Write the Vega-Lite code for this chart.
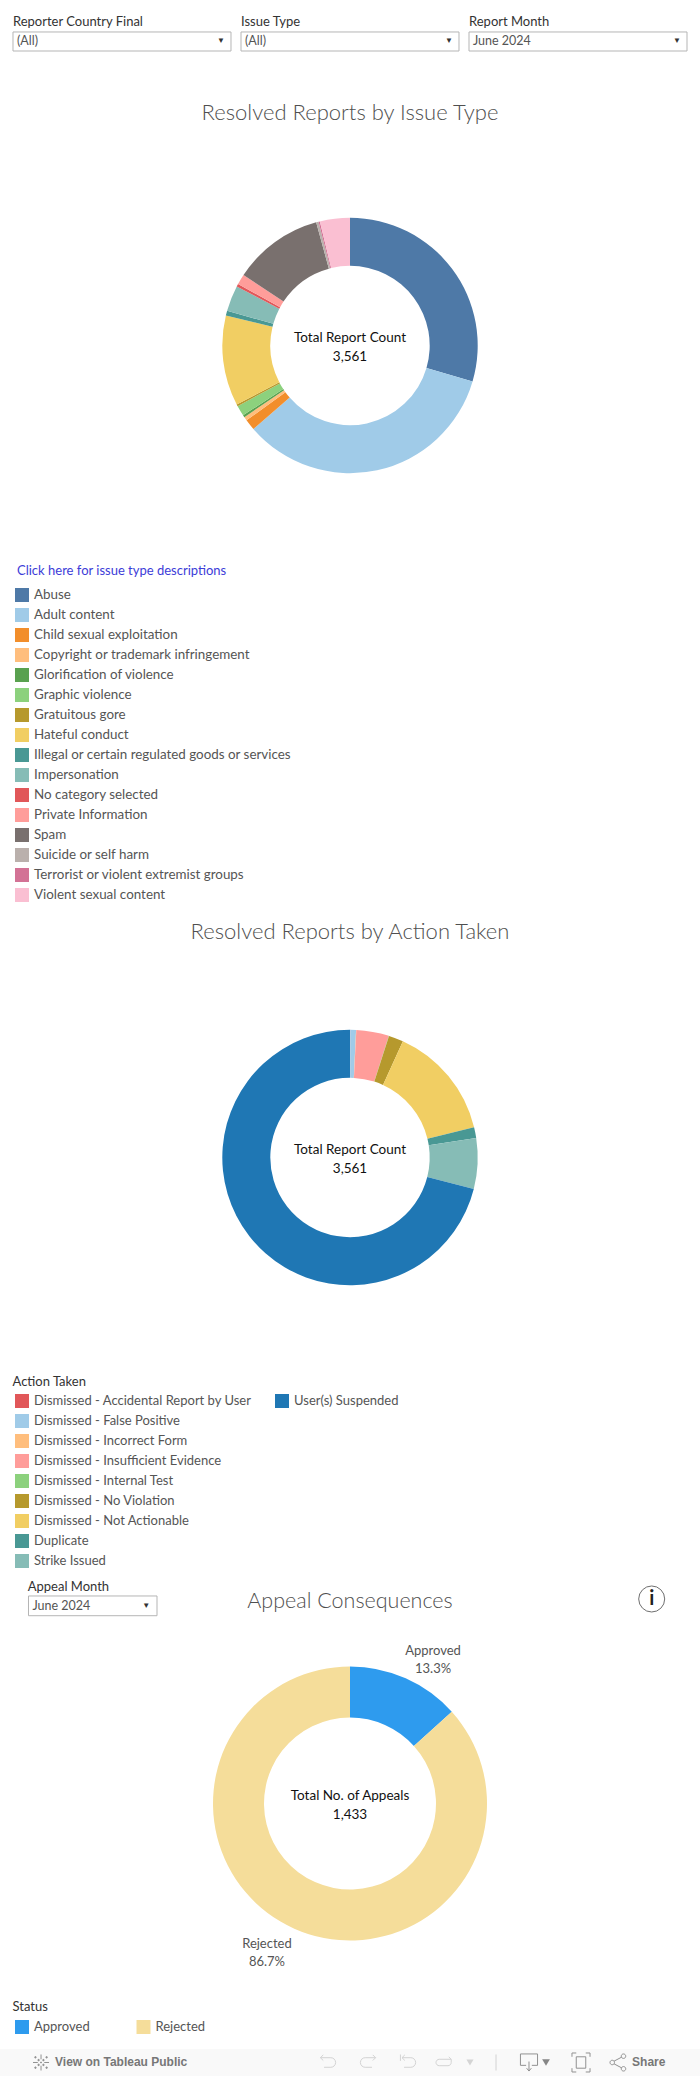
{"$schema":"https://vega.github.io/schema/vega-lite/v6.json","padding":0,"spacing":0,"background":"white",
"config":{"view":{"stroke":null},"axis":{"disable":true},"font":"Lato","concat":{"spacing":0},"text":{"font":"Lato"}},
"resolve":{"scale":{"color":"independent"},"legend":{"color":"independent"}},
"vconcat":[
{"width":700,"height":60,"data":{"values":[{"filter":"Reporter Country Final","value":"(All)"},{"filter":"Issue Type","value":"(All)"},{"filter":"Report Month","value":"June 2024"}]},
"encoding":{"x":{"field":"filter","type":"nominal","sort":null,"scale":{"type":"band","paddingInner":0.0439,"paddingOuter":0.057},"bandPosition":0}},
"layer":[
{"mark":{"type":"rect","fill":"white","stroke":"#b5b5b5","strokeWidth":1},"encoding":{"x":{"field":"filter","type":"nominal","sort":null,"scale":{"type":"band","paddingInner":0.0439,"paddingOuter":0.057}},"y":{"datum":0.533,"scale":{"domain":[0,1],"reverse":true}},"y2":{"datum":0.85}}},
{"mark":{"type":"text","align":"left","baseline":"middle","fontSize":13,"color":"#333333"},"encoding":{"y":{"datum":0.367,"scale":{"domain":[0,1],"reverse":true}},"text":{"field":"filter"}}},
{"mark":{"type":"text","align":"left","baseline":"middle","dx":4,"fontSize":12.5,"color":"#555555"},"encoding":{"y":{"datum":0.69,"scale":{"domain":[0,1],"reverse":true}},"text":{"field":"value"}}},
{"mark":{"type":"text","align":"center","baseline":"middle","dx":-10,"fontSize":8,"color":"#333333","text":"▼"},"encoding":{"x":{"field":"filter","type":"nominal","sort":null,"scale":{"type":"band","paddingInner":0.0439,"paddingOuter":0.057},"bandPosition":1},"y":{"datum":0.69,"scale":{"domain":[0,1],"reverse":true}}}}
]},
{"width":700,"height":571,"title":{"text":"Resolved Reports by Issue Type","anchor":"middle","frame":"group","offset":-65,"fontSize":22,"fontWeight":300,"color":"#4f4f4f","font":"Lato"},
"layer":[
{"data":{"values":[
{"issue":"Abuse","count":1052},{"issue":"Adult content","count":1215},{"issue":"Child sexual exploitation","count":49},{"issue":"Copyright or trademark infringement","count":17},{"issue":"Glorification of violence","count":10},{"issue":"Graphic violence","count":47},{"issue":"Gratuitous gore","count":9},{"issue":"Hateful conduct","count":406},{"issue":"Illegal or certain regulated goods or services","count":22},{"issue":"Impersonation","count":116},{"issue":"No category selected","count":12},{"issue":"Private Information","count":47},{"issue":"Spam","count":407},{"issue":"Suicide or self harm","count":11},{"issue":"Terrorist or violent extremist groups","count":6},{"issue":"Violent sexual content","count":135}]},
"transform":[{"stack":"count","groupby":[],"sort":[{"field":"issue","order":"ascending"}],"as":["s0","s1"]}],
"mark":{"type":"arc","radius":127.7,"radius2":79.7},
"encoding":{"theta":{"field":"s0","type":"quantitative","scale":{"domain":[0,3561]}},"theta2":{"field":"s1"},
"color":{"field":"issue","type":"nominal","scale":{"domain":["Abuse","Adult content","Child sexual exploitation","Copyright or trademark infringement","Glorification of violence","Graphic violence","Gratuitous gore","Hateful conduct","Illegal or certain regulated goods or services","Impersonation","No category selected","Private Information","Spam","Suicide or self harm","Terrorist or violent extremist groups","Violent sexual content"],"range":["#4e79a7","#a0cbe8","#f28e2b","#ffbe7d","#59a14f","#8cd17d","#b6992d","#f1ce63","#499894","#86bcb6","#e15759","#ff9d9a","#79706e","#bab0ac","#d37295","#fabfd2"]},
"legend":{"orient":"none","legendX":17,"legendY":505,"title":"Click here for issue type descriptions","titleColor":"#3c3cd8","titleFont":"Lato","titleFontSize":13,"titleFontWeight":"normal","titlePadding":10,"titleLimit":400,"symbolType":"square","symbolSize":196,"symbolStrokeWidth":0,"symbolOpacity":1,"symbolOffset":-2,"labelFont":"Lato","labelFontSize":13.4,"labelColor":"#555555","labelLimit":400,"labelOffset":5,"rowPadding":6,"padding":0}}}},
{"data":{"values":[{"label":"Total Report Count","total":3561}]},"mark":{"type":"text","dy":-8,"fontSize":13.5,"color":"#111111"},"encoding":{"text":{"field":"label"}}},
{"data":{"values":[{"label":"Total Report Count","total":3561}]},"mark":{"type":"text","dy":11,"fontSize":13.5,"color":"#111111"},"encoding":{"text":{"field":"total","type":"quantitative","format":","}}}
]},
{"width":700,"height":511,"title":{"text":"Resolved Reports by Action Taken","anchor":"middle","frame":"group","offset":-42,"fontSize":22,"fontWeight":300,"color":"#4f4f4f","font":"Lato"},
"resolve":{"scale":{"color":"independent"}},
"layer":[
{"data":{"name":"actions","values":[
{"action":"Dismissed - Accidental Report by User","count":1},{"action":"Dismissed - False Positive","count":26},{"action":"Dismissed - Incorrect Form","count":1},{"action":"Dismissed - Insufficient Evidence","count":147},{"action":"Dismissed - Internal Test","count":1},{"action":"Dismissed - No Violation","count":66},{"action":"Dismissed - Not Actionable","count":513},{"action":"Duplicate","count":48},{"action":"Strike Issued","count":228},{"action":"User(s) Suspended","count":2530}]},
"transform":[{"stack":"count","groupby":[],"sort":[{"field":"action","order":"ascending"}],"as":["s0","s1"]},{"filter":"datum.action !== 'User(s) Suspended'"}],
"mark":{"type":"arc","radius":127.7,"radius2":79.7},
"encoding":{"theta":{"field":"s0","type":"quantitative","scale":{"domain":[0,3561]}},"theta2":{"field":"s1"},
"color":{"field":"action","type":"nominal","scale":{"domain":["Dismissed - Accidental Report by User","Dismissed - False Positive","Dismissed - Incorrect Form","Dismissed - Insufficient Evidence","Dismissed - Internal Test","Dismissed - No Violation","Dismissed - Not Actionable","Duplicate","Strike Issued"],"range":["#e15759","#a0cbe8","#ffbe7d","#ff9d9a","#8cd17d","#b6992d","#f1ce63","#499894","#86bcb6"]},
"legend":{"orient":"none","legendX":12.5,"legendY":474,"title":"Action Taken","titleColor":"#333333","titleFont":"Lato","titleFontSize":13,"titleFontWeight":"normal","titlePadding":5,"symbolType":"square","symbolSize":196,"symbolStrokeWidth":0,"symbolOpacity":1,"symbolOffset":2.5,"labelFont":"Lato","labelFontSize":13,"labelColor":"#555555","labelLimit":400,"labelOffset":5,"rowPadding":6,"padding":0}}}},
{"data":{"name":"actions"},
"transform":[{"stack":"count","groupby":[],"sort":[{"field":"action","order":"ascending"}],"as":["s0","s1"]},{"filter":"datum.action === 'User(s) Suspended'"}],
"mark":{"type":"arc","radius":127.7,"radius2":79.7},
"encoding":{"theta":{"field":"s0","type":"quantitative","scale":{"domain":[0,3561]}},"theta2":{"field":"s1"},
"color":{"field":"action","type":"nominal","scale":{"domain":["User(s) Suspended"],"range":["#1f77b4"]},
"legend":{"orient":"none","legendX":275,"legendY":492,"title":null,"symbolType":"square","symbolSize":196,"symbolStrokeWidth":0,"symbolOpacity":1,"labelFont":"Lato","labelFontSize":13,"labelColor":"#555555","labelLimit":400,"labelOffset":5,"padding":0}}}},
{"data":{"values":[{"label":"Total Report Count","total":3561}]},"mark":{"type":"text","dy":-8,"fontSize":13.5,"color":"#111111"},"encoding":{"text":{"field":"label"}}},
{"data":{"values":[{"label":"Total Report Count","total":3561}]},"mark":{"type":"text","dy":11,"fontSize":13.5,"color":"#111111"},"encoding":{"text":{"field":"total","type":"quantitative","format":","}}}
]},
{"width":700,"height":471,"title":{"text":"Appeal Consequences","anchor":"middle","frame":"group","offset":-44,"fontSize":21.5,"fontWeight":300,"color":"#4f4f4f","font":"Lato"},
"data":{"values":[{"status":"Approved","count":191,"label":"Approved\n13.3%"},{"status":"Rejected","count":1242,"label":"Rejected\n86.7%"}]},
"layer":[
{"mark":{"type":"arc","radius":137,"radius2":86},
"encoding":{"theta":{"field":"count","type":"quantitative","stack":true},"order":{"field":"status"},
"color":{"field":"status","type":"nominal","scale":{"domain":["Approved","Rejected"],"range":["#2e9bee","#f5dd9a"]},
"legend":{"orient":"none","legendX":12.5,"legendY":433,"direction":"horizontal","columns":2,"columnPadding":43.5,"title":"Status","titleColor":"#333333","titleFont":"Lato","titleFontSize":13,"titleFontWeight":"normal","titlePadding":6,"symbolType":"square","symbolSize":196,"symbolStrokeWidth":0,"symbolOpacity":1,"symbolOffset":2.5,"labelFont":"Lato","labelFontSize":13,"labelColor":"#555555","labelOffset":5,"padding":0}}}},
{"mark":{"type":"text","radius":160,"lineBreak":"\n","lineHeight":18,"baseline":"middle","fontSize":13,"color":"#555555","dy":-6,"dx":{"expr":"datum.status === 'Approved' ? 18 : -18"}},
"encoding":{"theta":{"field":"count","type":"quantitative","stack":true},"order":{"field":"status"},"text":{"field":"label"}}},
{"data":{"values":[{"label":"Total No. of Appeals","total":1433}]},"mark":{"type":"text","dy":-8,"fontSize":13.5,"color":"#111111"},"encoding":{"text":{"field":"label"}}},
{"data":{"values":[{"label":"Total No. of Appeals","total":1433}]},"mark":{"type":"text","dy":11,"fontSize":13.5,"color":"#111111"},"encoding":{"text":{"field":"total","type":"quantitative","format":","}}},
{"data":{"values":[{"filter":"Appeal Month","value":"June 2024"}]},"mark":{"type":"rect","fill":"white","stroke":"#b5b5b5"},"encoding":{"x":{"datum":0.0407,"scale":{"domain":[0,1]}},"x2":{"datum":0.2243},"y":{"datum":0.0594,"scale":{"domain":[0,1],"reverse":true}},"y2":{"datum":0.1013}}},
{"data":{"values":[{"filter":"Appeal Month","value":"June 2024"}]},"mark":{"type":"text","align":"left","baseline":"middle","fontSize":13,"color":"#333333"},"encoding":{"x":{"datum":0.0396,"scale":{"domain":[0,1]}},"y":{"datum":0.0397,"scale":{"domain":[0,1],"reverse":true}},"text":{"field":"filter"}}},
{"data":{"values":[{"filter":"Appeal Month","value":"June 2024"}]},"mark":{"type":"text","align":"left","baseline":"middle","dx":4,"fontSize":12.5,"color":"#555555"},"encoding":{"x":{"datum":0.0407,"scale":{"domain":[0,1]}},"y":{"datum":0.0807,"scale":{"domain":[0,1],"reverse":true}},"text":{"field":"value"}}},
{"data":{"values":[{"filter":"Appeal Month"}]},"mark":{"type":"text","align":"center","baseline":"middle","fontSize":8,"color":"#333333","text":"▼"},"encoding":{"x":{"datum":0.209,"scale":{"domain":[0,1]}},"y":{"datum":0.0807,"scale":{"domain":[0,1],"reverse":true}}}},
{"data":{"values":[{"icon":"info"}]},"mark":{"type":"point","shape":"circle","size":676,"filled":false,"stroke":"#333333","strokeWidth":1},"encoding":{"x":{"datum":0.931,"scale":{"domain":[0,1]}},"y":{"datum":0.0658,"scale":{"domain":[0,1],"reverse":true}}}},
{"data":{"values":[{"icon":"info"}]},"mark":{"type":"text","align":"center","baseline":"middle","fontSize":20,"fontWeight":"bold","color":"#222222","text":"i"},"encoding":{"x":{"datum":0.931,"scale":{"domain":[0,1]}},"y":{"datum":0.0658,"scale":{"domain":[0,1],"reverse":true}}}}
]},
{"width":700,"height":37,"data":{"values":[{"part":"toolbar"}]},
"encoding":{"y":{"datum":0.635,"scale":{"domain":[0,1],"reverse":true}}},
"layer":[
{"mark":{"type":"rect","fill":"#f9f9f9"},"encoding":{"x":{"datum":0,"scale":{"domain":[0,1]}},"x2":{"datum":1},"y":{"datum":0.27,"scale":{"domain":[0,1],"reverse":true}},"y2":{"datum":1}}},
{"mark":{"type":"point","filled":false,"stroke":"#666666","strokeWidth":1,"size":256,"shape":"M0,-1 V-0.4 M0,0.4 V1 M-1,0 H-0.4 M0.4,0 H1 M-0.3,-0.45 V-0.15 M-0.45,-0.3 H-0.15 M0.3,-0.45 V-0.15 M0.15,-0.3 H0.45 M-0.3,0.15 V0.45 M-0.45,0.3 H-0.15 M0.3,0.15 V0.45 M0.15,0.3 H0.45 M-0.1,0 H0.1 M0,-0.1 V0.1 M-0.7,-0.8 V-0.5 M-0.85,-0.65 H-0.55 M0.7,-0.8 V-0.5 M0.55,-0.65 H0.85 M-0.7,0.5 V0.8 M-0.85,0.65 H-0.55 M0.7,0.5 V0.8 M0.55,0.65 H0.85"},"encoding":{"x":{"datum":0.0586,"scale":{"domain":[0,1]}}}},
{"mark":{"type":"text","align":"left","baseline":"middle","font":"Liberation Sans","fontSize":12,"fontWeight":"bold","color":"#777777","text":"View on Tableau Public"},"encoding":{"x":{"datum":0.0786,"scale":{"domain":[0,1]}}}},
{"mark":{"type":"point","filled":false,"stroke":"#c4c4c4","strokeWidth":1,"size":256,"shape":"M-0.95,-0.6 H0.35 A0.6,0.6 0 0 1 0.35,0.6 H-0.5 M-0.6,-0.95 L-0.95,-0.6 L-0.6,-0.25"},"encoding":{"x":{"datum":0.4686,"scale":{"domain":[0,1]}}}},
{"mark":{"type":"point","filled":false,"stroke":"#c4c4c4","strokeWidth":1,"size":256,"shape":"M0.95,-0.6 H-0.35 A0.6,0.6 0 0 0 -0.35,0.6 H0.5 M0.6,-0.95 L0.95,-0.6 L0.6,-0.25"},"encoding":{"x":{"datum":0.5257,"scale":{"domain":[0,1]}}}},
{"mark":{"type":"point","filled":false,"stroke":"#c4c4c4","strokeWidth":1,"size":256,"shape":"M-0.95,-1 V-0.2 M-0.75,-0.6 H0.35 A0.6,0.6 0 0 1 0.35,0.6 H-0.5 M-0.4,-0.95 L-0.75,-0.6 L-0.4,-0.25"},"encoding":{"x":{"datum":0.5829,"scale":{"domain":[0,1]}}}},
{"mark":{"type":"point","filled":false,"stroke":"#c4c4c4","strokeWidth":1,"size":256,"shape":"M0.9,-0.4 H-0.6 A0.4,0.4 0 0 0 -0.6,0.4 H0.5 A0.4,0.4 0 0 0 0.9,0 V-0.4 M0.6,-0.7 L0.9,-0.4"},"encoding":{"x":{"datum":0.6343,"scale":{"domain":[0,1]}}}},
{"mark":{"type":"point","shape":"triangle-down","filled":true,"fill":"#c4c4c4","stroke":null,"size":50},"encoding":{"x":{"datum":0.6714,"scale":{"domain":[0,1]}}}},
{"mark":{"type":"point","filled":false,"stroke":"#c4c4c4","strokeWidth":1,"size":256,"shape":"M0,-1 V1"},"encoding":{"x":{"datum":0.7086,"scale":{"domain":[0,1]}}}},
{"mark":{"type":"point","filled":false,"stroke":"#666666","strokeWidth":1,"size":361,"shape":"M-0.3,0.3 H-0.9 V-0.9 H0.9 V0.3 H0.3 M0,-0.1 V0.9 M-0.25,0.6 L0,0.9 L0.25,0.6"},"encoding":{"x":{"datum":0.7557,"scale":{"domain":[0,1]}}}},
{"mark":{"type":"point","shape":"triangle-down","filled":true,"fill":"#555555","stroke":null,"size":60},"encoding":{"x":{"datum":0.78,"scale":{"domain":[0,1]}}}},
{"mark":{"type":"point","filled":false,"stroke":"#666666","strokeWidth":1,"size":361,"shape":"M-0.5,-0.6 H0.5 V0.6 H-0.5 Z M-0.95,-0.6 V-1 H-0.5 M0.5,-1 H0.95 V-0.6 M-0.95,0.6 V1 H-0.5 M0.5,1 H0.95 V0.6"},"encoding":{"x":{"datum":0.83,"scale":{"domain":[0,1]}}}},
{"mark":{"type":"point","filled":false,"stroke":"#666666","strokeWidth":1,"size":324,"shape":"M-0.9,0 A0.25,0.25 0 1 0 -0.4,0 A0.25,0.25 0 1 0 -0.9,0 M0.35,-0.7 A0.25,0.25 0 1 0 0.85,-0.7 A0.25,0.25 0 1 0 0.35,-0.7 M0.35,0.7 A0.25,0.25 0 1 0 0.85,0.7 A0.25,0.25 0 1 0 0.35,0.7 M-0.45,-0.15 L0.4,-0.6 M-0.45,0.15 L0.4,0.6"},"encoding":{"x":{"datum":0.883,"scale":{"domain":[0,1]}}}},
{"mark":{"type":"text","align":"left","baseline":"middle","font":"Liberation Sans","fontSize":12,"fontWeight":"bold","color":"#777777","text":"Share"},"encoding":{"x":{"datum":0.903,"scale":{"domain":[0,1]}}}}
]}
]}
